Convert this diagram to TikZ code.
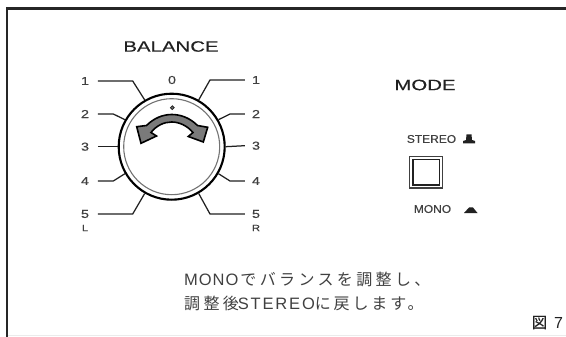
\documentclass[tikz,border=0pt]{standalone}
\usepackage{fontspec}
\setmainfont{Liberation Sans}
\newfontfamily\widefont[FakeStretch=1.36,FakeBold=0.35]{Liberation Sans}
\newfontfamily\labfont[FakeStretch=1.25,FakeBold=0.5]{Liberation Sans}
\newfontfamily\smallfont[FakeStretch=1.06,FakeBold=0.35]{Liberation Sans}
\newfontfamily\jpf[LetterSpace=21]{Noto Sans CJK JP}
\newfontfamily\jpg[LetterSpace=18]{Noto Sans CJK JP}
\newfontfamily\latf[LetterSpace=6]{Liberation Sans}
\newfontfamily\latg[LetterSpace=11]{Liberation Sans}
\newfontfamily\figf[FakeBold=0.15]{Noto Sans CJK JP}
\definecolor{ink}{gray}{0.13}
\definecolor{soft}{gray}{0.25}
\tikzset{
  title/.style={inner sep=0pt,text=ink,font=\widefont\fontsize{15}{15}\selectfont},
  modetxt/.style={inner sep=0pt,text=soft,font=\smallfont\fontsize{11.3}{11.3}\selectfont},
  scaleL/.style={inner sep=0pt,minimum width=25.4pt,minimum height=9pt,text=soft,font=\labfont\fontsize{11.5}{11.5}\selectfont},
  scaleR/.style={inner sep=0pt,minimum width=22pt,minimum height=9pt,text=soft,font=\labfont\fontsize{11.5}{11.5}\selectfont},
  sidetag/.style={inner sep=0pt,text=soft,font=\labfont\fontsize{9}{9}\selectfont},
  leader/.style={draw=ink,line width=1.25pt},
  dialout/.style={circle,draw=black,line width=2.1pt,minimum size=106pt,inner sep=0pt},
  dialin/.style={circle,draw=black!55,line width=1.1pt,minimum size=96pt,inner sep=0pt},
  note/.style={inner sep=0pt,anchor=west,text=soft,font=\fontsize{16}{16}\selectfont},
}
\begin{document}
\begin{tikzpicture}[x=1pt,y=-1pt]
\useasboundingbox (0,0) rectangle (566,337);
% frame
\draw[black!85,line width=2.6pt] (7,337) -- (7,8.5) -- (566,8.5);
\draw[black!8,line width=1pt] (8,335.5) -- (566,335.5);
% titles
\node[title] (bal) at (171,46.5) {BALANCE};
\node[title] (mode) at (425,85) {MODE};
% dial
\node[dialout] (dial) at (171.7,146.7) {};
\node[dialin] (dialinner) at (171.7,146.7) {};
% scale labels
\foreach \n/\t/\y in {l1/1/81,l2/2/114,l3/3/146.7,l4/4/181,l5/5/214}
  \node[scaleL] (\n) at (85,\y) {\t};
\foreach \n/\t/\y in {r1/1/80,r2/2/114,r3/3/145.7,r4/4/181,r5/5/214}
  \node[scaleR] (\n) at (256,\y) {\t};
\node[scaleL] (zero) at (172,80) {0};
\node[sidetag] (lL) at (85,228) {L};
\node[sidetag] (lR) at (256,228) {R};
% bends
\coordinate (bl1) at (132.7,81);
\coordinate (bl2) at (113.3,114);
\coordinate (bl4) at (113.3,181);
\coordinate (bl5) at (132.7,214);
\coordinate (br1) at (210,80);
\coordinate (br2) at (230,114);
\coordinate (br4) at (230,181);
\coordinate (br5) at (210,214);
\draw[leader] (l1.east) -- (bl1) -- (dial.120);
\draw[leader] (l2.east) -- (bl2) -- (dial.150);
\draw[leader] (l3.east) -- (dial.180);
\draw[leader] (l4.east) -- (bl4) -- (dial.210);
\draw[leader] (l5.east) -- (bl5) -- (dial.240);
\draw[leader] (r1.west) -- (br1) -- (dial.60);
\draw[leader] (r2.west) -- (br2) -- (dial.30);
\draw[leader] (r3.west) -- (dial.0);
\draw[leader] (r4.west) -- (br4) -- (dial.-30);
\draw[leader] (r5.west) -- (br5) -- (dial.-60);
% dot
\fill[black!55,draw=black!85,line width=0.8pt] (172.3,107.7) circle (1.9);
% double arrow
\draw[fill=black!52,draw=black,line width=1.6pt,line join=miter]
  (146.5,125.5) .. controls (154,118) and (163,114.5) .. (171.7,114.5)
  .. controls (181,114.5) and (190,118) .. (197.5,125.5)
  -- (207.7,127.3) -- (203.3,142) -- (188.3,136.5) -- (193,132.5)
  .. controls (187,125.5) and (179,122) .. (171.7,122)
  .. controls (164,122) and (156.5,125.5) .. (151,132.5)
  -- (156.5,136) -- (141,143.3) -- (136.7,126.7) -- cycle;
% mode
\node[modetxt] (st) at (431.5,139) {STEREO};
\node[modetxt] (mo) at (432.5,209) {MONO};
\fill[ink] (463,143.5) -- (463,141) -- (466,140) -- (466.5,134.5) -- (471.5,134.5) -- (472,140) -- (475,141) -- (475,143.5) -- cycle;
\fill[ink] (464,213) -- (469,207.5) -- (473,207.5) -- (477.5,213) -- cycle;
\draw[black!75,line width=1.6pt] (409.5,156.5) rectangle (442.5,188);
\draw[ink,line width=1.1pt] (413,159.5) rectangle (439.5,185);
% note
\node[note] (n1) at (184,279) {{\latf\fontsize{16.5}{16.5}\selectfont MONO}\hspace{2pt}{\jpf でバランスを調整し、}};
\node[note] (n2) at (184,303) {{\jpf 調整後}\hspace{-1pt}{\latg\fontsize{16.5}{16.5}\selectfont STEREO}{\jpg に戻します。}};
\node[inner sep=0pt,text=ink,font=\figf\fontsize{15.5}{15.5}\selectfont] (fig) at (539.5,322.5) {図};
\node[inner sep=0pt,text=ink,font=\fontsize{16}{16}\selectfont] (fignum) at (558.5,322.5) {7};
\end{tikzpicture}
\end{document}
